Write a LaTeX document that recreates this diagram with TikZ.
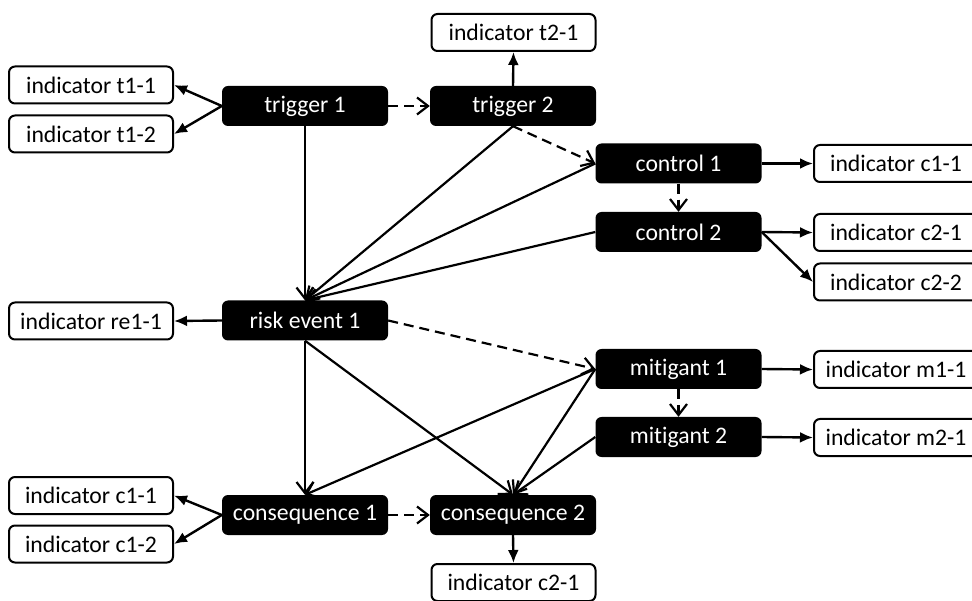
\documentclass[tikz,border=0pt]{standalone}
\usepackage{fontspec}
\setmainfont{Carlito}[RawFeature={-liga;-calt;-dlig;-clig}]
\usetikzlibrary{arrows.meta}
\newcommand\diafont{\fontsize{23.7}{28}\selectfont}
\begin{document}
\begin{tikzpicture}[x=1pt,y=-1pt,
  blk/.style={rectangle, rounded corners=6pt, fill=black, text=white, minimum width=166pt, minimum height=40pt, inner sep=0pt, font=\diafont},
  ind/.style={rectangle, rounded corners=6pt, draw=black, line width=2pt, fill=white, minimum width=164pt, minimum height=37pt, inner sep=0pt, font=\diafont},
  ia/.style={line width=2.4pt, -{Latex[length=13pt,width=11pt]}},
  oa/.style={line width=2.2pt, -{Straight Barb[length=11pt,width=17pt,line width=2.2pt]}},
  da/.style={oa, dash pattern=on 10pt off 6pt}]
\useasboundingbox (0,0) rectangle (972,601);
\clip (0,0) rectangle (972,601);
% black nodes
\node[blk] (trig1) at (305,106) {trigger 1};
\node[blk] (trig2) at (513,106) {trigger 2};
\node[blk] (ctrl1) at (678.5,163.5) {control 1};
\node[blk] (ctrl2) at (678.5,232) {control 2};
\node[blk] (re1) at (305,320.5) {risk event 1};
\node[blk] (mit1) at (678.5,369) {mi\kern0pt tigant 1};
\node[blk] (mit2) at (678.5,437) {mi\kern0pt tigant 2};
\node[blk] (cons1) at (305,515) {consequence 1};
\node[blk] (cons2) at (513,515) {consequence 2};
% indicators
\node[ind] (it11) at (91,85) {indicator t1-1};
\node[ind] (it12) at (91,134) {indicator t1-2};
\node[ind] (it21) at (513.5,32.5) {indicator t2-1};
\node[ind] (ic11r) at (896,163.5) {indicator c1-1};
\node[ind] (ic21r) at (896,232.5) {indicator c2-1};
\node[ind] (ic22r) at (896,282) {indicator c2-2};
\node[ind] (ire1) at (91,321) {indicator re1-1};
\node[ind] (im11) at (896,369.5) {indicator m1-1};
\node[ind] (im21) at (896,437.5) {indicator m2-1};
\node[ind] (ic11l) at (91,495.5) {indicator c1-1};
\node[ind] (ic12l) at (91,544) {indicator c1-2};
\node[ind] (ic21b) at (513.5,582.5) {indicator c2-1};
% indicator arrows
\draw[ia] (trig1.west) -- (it11.east);
\draw[ia] (trig1.west) -- (it12.east);
\draw[ia] (trig2.north) -- (it21.south);
\draw[ia] (ctrl1.east) -- (ic11r.west);
\draw[ia] (ctrl2.east) -- (ic21r.west);
\draw[ia] (ctrl2.east) -- (ic22r.west);
\draw[ia] (re1.west) -- (ire1.east);
\draw[ia] (mit1.east) -- (im11.west);
\draw[ia] (mit2.east) -- (im21.west);
\draw[ia] (cons1.west) -- (ic11l.east);
\draw[ia] (cons1.west) -- (ic12l.east);
\draw[ia] (cons2.south) -- (ic21b.north);
% dashed arrows
\draw[da] (trig1.east) -- (trig2.west);
\draw[da] (trig2.south) -- (ctrl1.west);
\draw[da] (ctrl1.south) -- (ctrl2.north);
\draw[da] (re1.east) -- (mit1.west);
\draw[da] (mit1.south) -- (mit2.north);
\draw[da] (cons1.east) -- (cons2.west);
% solid causal arrows
\draw[oa] (trig1.south) -- (re1.north);
\draw[oa] (trig2.south) -- (re1.north);
\draw[oa] (ctrl1.west) -- (re1.north);
\draw[oa] (ctrl2.west) -- (re1.north);
\draw[oa] (re1.south) -- (cons1.north);
\draw[oa] (re1.south) -- (cons2.north);
\draw[oa] (mit1.west) -- (cons1.north);
\draw[oa] (mit1.west) -- (cons2.north);
\draw[oa] (mit2.west) -- (cons2.north);
\end{tikzpicture}
\end{document}
